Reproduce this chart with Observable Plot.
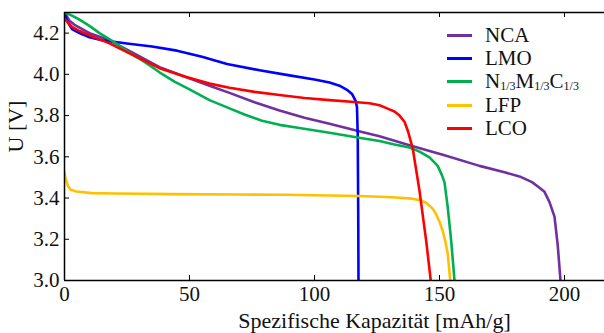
<!DOCTYPE html>
<html><head><meta charset="utf-8">
<script src="https://cdn.jsdelivr.net/npm/d3@7"></script>
<script src="https://cdn.jsdelivr.net/npm/@observablehq/plot@0.6"></script>
<style>
body{margin:0;background:#fff;}
#wrap{position:relative;width:604px;height:333px;font-family:"Liberation Serif","Times New Roman",serif;}
#legend{position:absolute;left:447px;top:24px;}
.row{display:flex;align-items:center;height:23.2px;font-size:21px;color:#111;white-space:nowrap;}
.row .t{line-height:1;}
.sw{width:25px;height:3px;margin-right:13px;flex:none;}
sub{font-size:12px;vertical-align:-2px;line-height:0;}
</style></head><body>
<div id="wrap"><div id="legend"></div></div>
<script>
const seriesNames = ["NCA", "LMO", "NMC", "LFP", "LCO"];
const seriesLabels = ["NCA", "LMO", "N<sub>1/3</sub>M<sub>1/3</sub>C<sub>1/3</sub>", "LFP", "LCO"];
const seriesColors = ["#7030A0", "#0000FF", "#00B050", "#FFC000", "#FF0000"];

const nca = [[0,4.30],[2,4.26],[4,4.24],[10,4.20],[18,4.165],[28,4.10],[38,4.035],[48,3.99],[58,3.945],[66,3.91],[76,3.865],[86,3.825],[96,3.79],[106,3.76],[119,3.72],[126,3.70],[139,3.653],[152,3.607],[166,3.556],[176,3.525],[182,3.505],[187,3.477],[190,3.45],[192,3.43],[194,3.38],[196,3.31],[197.3,3.17],[198.4,3.0]];
const lmo = [[0,4.30],[1,4.26],[3,4.22],[6,4.20],[10,4.18],[15,4.165],[25,4.15],[35,4.135],[45,4.115],[55,4.085],[65,4.05],[78,4.02],[90,3.995],[100,3.975],[106,3.96],[110,3.945],[113,3.925],[115,3.905],[116.5,3.87],[117,3.84],[117.3,3.7],[117.5,3.3],[117.6,3.0]];
const nmc = [[0,4.30],[3,4.285],[6,4.265],[10,4.235],[14,4.20],[20,4.155],[26,4.105],[32,4.06],[38,4.01],[44,3.965],[50,3.927],[58,3.875],[66,3.835],[72,3.805],[79,3.775],[86,3.755],[92.7,3.742],[106,3.717],[119,3.69],[126,3.677],[132,3.66],[138,3.645],[142,3.625],[146,3.597],[149.3,3.556],[151,3.51],[152,3.476],[153.3,3.355],[154.7,3.19],[156,3.0]];
const lfp = [[0,3.525],[0.5,3.49],[1.3,3.46],[2.5,3.44],[4.7,3.432],[11,3.424],[20,3.422],[43,3.419],[70,3.417],[89,3.416],[106,3.412],[118,3.41],[131,3.404],[139,3.397],[142,3.39],[144.5,3.378],[146,3.363],[147.5,3.345],[148.7,3.32],[150,3.285],[151.3,3.24],[152.5,3.18],[153.3,3.13],[154.3,3.0]];
const lco = [[0,4.27],[3,4.23],[6,4.21],[12,4.18],[18,4.15],[28,4.09],[38,4.03],[48,3.99],[58,3.955],[66,3.935],[76,3.915],[86,3.90],[96,3.885],[106,3.875],[116,3.866],[122,3.86],[126,3.85],[129,3.835],[132,3.82],[134,3.80],[136,3.77],[137.5,3.72],[139.3,3.64],[142,3.435],[144.7,3.19],[146.5,3.0]];

const xTicks = [0, 50, 100, 150, 200];
const yTicks = [3.0, 3.2, 3.4, 3.6, 3.8, 4.0, 4.2];
const xDomain = [0, 216];
const yDomain = [3.0, 4.3];
const xLabel = "Spezifische Kapazität [mAh/g]";
const yLabel = "U [V]";

const allSeries = [nca, lmo, nmc, lfp, lco];
const table = allSeries.flatMap((s, i) => s.map(([cap, u]) => ({series: seriesNames[i], cap, u})));

const W = 604, H = 333, mL = 64, mR = 0, mT = 12, mB = 53;
const frameW = W - mL - mR, frameH = H - mT - mB;
const tick = 5;

const chart = Plot.plot({
  width: W, height: H,
  marginLeft: mL, marginRight: mR, marginTop: mT, marginBottom: mB,
  style: {fontFamily: "'Liberation Serif','Times New Roman',serif", fontSize: "21px", color: "#111", background: "#fff"},
  x: {domain: xDomain},
  y: {domain: yDomain},
  color: {domain: seriesNames, range: seriesColors},
  marks: [
    Plot.line(table, {x: "cap", y: "u", stroke: "series", z: "series", strokeWidth: 2.6, clip: true}),
    Plot.ruleY([yDomain[0], yDomain[1]], {stroke: "#000", strokeWidth: 1.5}),
    Plot.ruleX([xDomain[0]], {stroke: "#000", strokeWidth: 1.5}),
    Plot.ruleX(xTicks, {x: d => d, insetTop: frameH - tick, stroke: "#000", strokeWidth: 1}),
    Plot.ruleX(xTicks, {x: d => d, insetBottom: frameH - tick, stroke: "#000", strokeWidth: 1}),
    Plot.ruleY(yTicks, {y: d => d, insetRight: frameW - tick, stroke: "#000", strokeWidth: 1}),
    Plot.axisX({ticks: xTicks, tickSize: 0, tickPadding: 6, label: null, fontSize: 21}),
    Plot.axisY({ticks: yTicks, tickFormat: d => d.toFixed(1), tickSize: 0, tickPadding: 5, label: null, fontSize: 21}),
    Plot.text([xLabel], {text: d => d, frameAnchor: "bottom", dx: 40, dy: 40, lineAnchor: "middle", fontSize: 22}),
    Plot.text([yLabel], {text: d => d, frameAnchor: "left", rotate: -90, dx: -49, dy: 6, lineAnchor: "middle", fontSize: 22})
  ]
});
const wrap = document.getElementById("wrap");
wrap.insertBefore(chart, wrap.firstChild);

const legend = document.getElementById("legend");
seriesNames.forEach((n, i) => {
  const row = document.createElement("div");
  row.className = "row";
  row.innerHTML = `<span class="sw" style="background:${seriesColors[i]}"></span><span class="t">${seriesLabels[i]}</span>`;
  legend.appendChild(row);
});
</script>
</body></html>
